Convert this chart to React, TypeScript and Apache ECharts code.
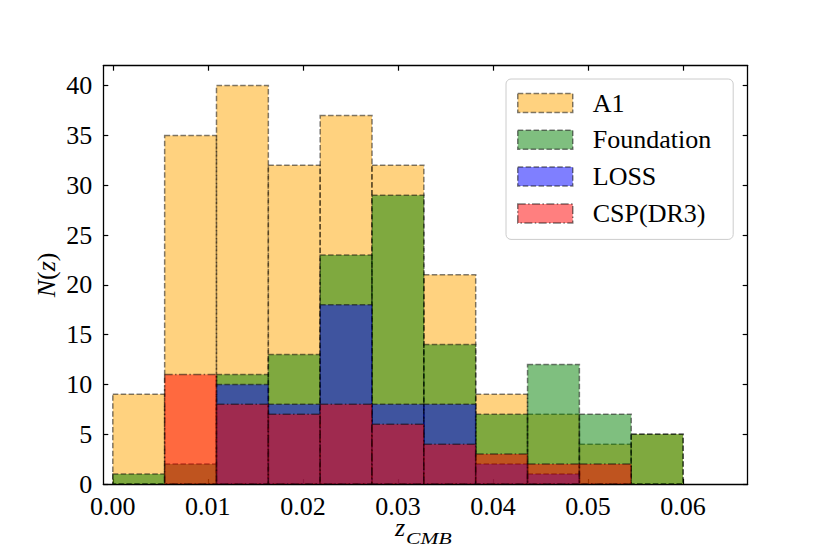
import React, { useEffect, useRef } from "react";
import * as echarts from "echarts";

const binEdges = [0, 0.005455, 0.010909, 0.016364, 0.021818, 0.027273, 0.032727, 0.038182, 0.043636, 0.049091, 0.054545, 0.06];
const a1Counts = [9, 35, 40, 32, 37, 32, 21, 9, 7, 4, 5];
const foundationCounts = [1, 2, 11, 13, 23, 29, 14, 7, 12, 7, 5];
const lossCounts = [0, 0, 10, 8, 18, 8, 8, 2, 1, 0, 0];
const cspCounts = [0, 11, 8, 7, 8, 6, 4, 3, 2, 2, 0];
const xTickValues = [0, 0.01, 0.02, 0.03, 0.04, 0.05, 0.06];
const xTickLabels = ["0.00", "0.01", "0.02", "0.03", "0.04", "0.05", "0.06"];
const yTickValues = [0, 5, 10, 15, 20, 25, 30, 35, 40];
const seriesNames = ["A1", "Foundation", "LOSS", "CSP(DR3)"];
const xTitleMain = "z";
const xTitleSub = "CMB";

const FONT = "'Liberation Serif', 'DejaVu Serif', serif";
const EDGE = "rgba(0,0,0,0.5)";
const DASH = [5.5, 2.4];
const DASHDOT = [8, 2.4, 1.5, 2.4];

function histData(counts: number[]) {
  const out: number[][] = [];
  counts.forEach((c, i) => {
    if (c > 0) out.push([binEdges[i], binEdges[i + 1], c]);
  });
  return out;
}

function makeSeries(name: string, counts: number[], fill: string, dash: number[]) {
  return {
    type: "custom",
    name,
    data: histData(counts),
    encode: { x: [0, 1], y: 2 },
    clip: true,
    itemStyle: { color: fill, borderColor: EDGE, borderWidth: 1.5, borderType: dash },
    renderItem: (params: any, api: any) => {
      const p0 = api.coord([api.value(0), api.value(2)]);
      const p1 = api.coord([api.value(1), 0]);
      return {
        type: "rect",
        shape: { x: p0[0], y: p0[1], width: p1[0] - p0[0], height: p1[1] - p0[1] },
        style: { fill, stroke: EDGE, lineWidth: 1.5, lineDash: dash },
      };
    },
  };
}

export default function App() {
  const ref = useRef<HTMLDivElement>(null);
  useEffect(() => {
    if (!ref.current) return;
    const chart = echarts.init(ref.current, null, { renderer: "svg" });
    const fills = ["rgba(255,165,0,0.5)", "rgba(0,128,0,0.5)", "rgba(0,0,255,0.5)", "rgba(255,0,0,0.5)"];
    const dashes = [DASH, DASH, DASH, DASHDOT];
    const axisLine = { show: true, onZero: false, lineStyle: { color: "#000", width: 1.3 } };
    const tick = { show: true, inside: true, length: 5, lineStyle: { color: "#000", width: 1.2 } };
    const xMin = -0.001;
    const xMax = 0.0668;
    chart.setOption({
      animation: false,
      grid: { left: 103.3, top: 65.7, width: 644.4, height: 418.3, containLabel: false, outerBoundsMode: "none" },
      graphic: [
        {
          type: "text",
          x: 395,
          y: 527,
          style: { text: xTitleMain, fontFamily: FONT, fontStyle: "italic", fontSize: 26, lineHeight: 12, verticalAlign: "middle", fill: "#000" },
        },
        {
          type: "text",
          x: 406,
          y: 539,
          scaleX: 1.35,
          style: { text: xTitleSub, fontFamily: FONT, fontStyle: "italic", fontSize: 16, lineHeight: 12, verticalAlign: "middle", fill: "#000" },
        },
      ],
      legend: {
        orient: "vertical",
        left: 506,
        top: 79,
        padding: [11, 22, 13, 11],
        itemWidth: 55,
        itemHeight: 19,
        itemGap: 10.8,
        backgroundColor: "rgba(255,255,255,0.8)",
        borderColor: "#cccccc",
        borderWidth: 1,
        borderRadius: 5,
        textStyle: { fontFamily: FONT, fontSize: 26, color: "#000", padding: [0, 0, 0, 15] },
        data: seriesNames.map((n, i) => ({
          name: n,
          icon: "rect",
          itemStyle: { color: fills[i], borderColor: EDGE, borderWidth: 1.5, borderType: dashes[i] },
        })),
      },
      xAxis: [
        {
          type: "value",
          min: xMin,
          max: xMax,
          position: "bottom",
          axisLine,
          axisTick: { ...tick, customValues: xTickValues },
          splitLine: { show: false },
          axisLabel: {
            customValues: xTickValues,
            formatter: (v: number) => {
              const idx = xTickValues.findIndex((t) => Math.abs(t - v) < 1e-9);
              return idx >= 0 ? xTickLabels[idx] : "";
            },
            fontFamily: FONT,
            fontSize: 26,
            lineHeight: 20,
            color: "#000",
            margin: 12,
          },
        },
        {
          type: "value",
          min: xMin,
          max: xMax,
          position: "top",
          axisLine,
          axisTick: { ...tick, customValues: xTickValues },
          axisLabel: { show: false, customValues: xTickValues },
          splitLine: { show: false },
        },
      ],
      yAxis: [
        {
          type: "value",
          min: 0,
          max: 42,
          interval: 5,
          position: "left",
          axisLine,
          axisTick: { ...tick, customValues: yTickValues },
          splitLine: { show: false },
          axisLabel: {
            customValues: yTickValues,
            fontFamily: FONT,
            fontSize: 26,
            color: "#000",
            margin: 11,
          },
          name: "{i|N}{r|(}{i|z}{r|)}",
          nameLocation: "middle",
          nameGap: 44,
          nameMoveOverlap: false,
          nameTextStyle: {
            rich: {
              i: { fontFamily: FONT, fontStyle: "italic", fontSize: 26, color: "#000" },
              r: { fontFamily: FONT, fontSize: 26, color: "#000" },
            },
          },
        },
        {
          type: "value",
          min: 0,
          max: 42,
          interval: 5,
          position: "right",
          axisLine,
          axisTick: { ...tick, customValues: yTickValues },
          axisLabel: { show: false, customValues: yTickValues },
          splitLine: { show: false },
        },
      ],
      series: [
        makeSeries(seriesNames[0], a1Counts, fills[0], dashes[0]),
        makeSeries(seriesNames[1], foundationCounts, fills[1], dashes[1]),
        makeSeries(seriesNames[2], lossCounts, fills[2], dashes[2]),
        makeSeries(seriesNames[3], cspCounts, fills[3], dashes[3]),
      ],
    });
    return () => chart.dispose();
  }, []);
  return <div ref={ref} style={{ position: "absolute", left: 0, top: 0, width: 830, height: 554 }} />;
}
